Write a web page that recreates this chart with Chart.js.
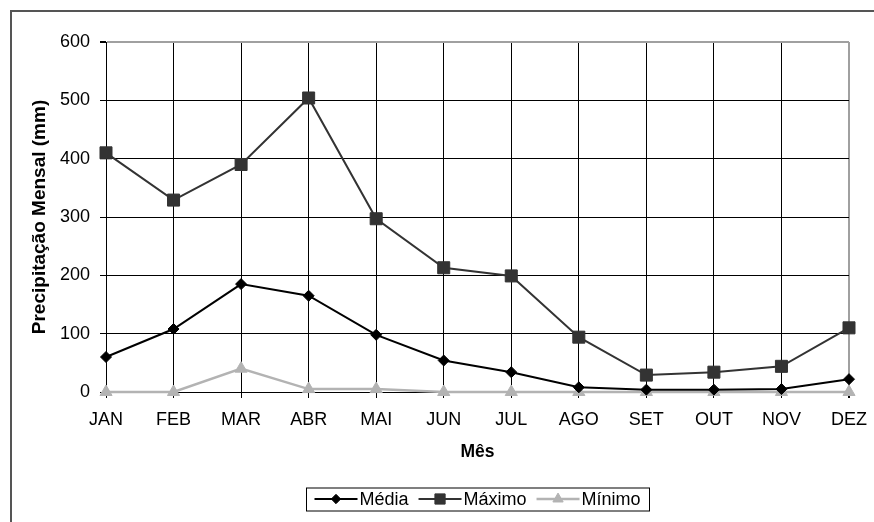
<!DOCTYPE html>
<html>
<head>
<meta charset="utf-8">
<script src="https://cdn.jsdelivr.net/npm/chart.js@4/dist/chart.umd.min.js"></script>
<style>
  html, body { margin: 0; padding: 0; background: #fff; }
  #wrap { position: relative; width: 874px; height: 522px; overflow: hidden; }
  #frame { position: absolute; left: 10px; top: 10px; width: 900px; height: 600px;
           border-left: 2px solid #555; border-top: 2px solid #555; box-sizing: border-box; }
  canvas { position: absolute; left: 0; top: 0; }
</style>
</head>
<body>
<div id="wrap">
  <div id="frame"></div>
  <canvas id="c" width="874" height="522"></canvas>
</div>
<script>
// Precipitação mensal (mm)
const meses = ['JAN', 'FEB', 'MAR', 'ABR', 'MAI', 'JUN', 'JUL', 'AGO', 'SET', 'OUT', 'NOV', 'DEZ'];
const media = [60, 108, 185, 165, 98, 54, 34, 8, 4, 4, 5, 22];
const maximo = [410, 329, 390, 504, 297, 213, 199, 94, 29, 34, 44, 110];
const minimo = [0, 0, 40, 5, 5, 0, 0, 0, 0, 0, 0, 0];
const yTicks = [0, 100, 200, 300, 400, 500, 600];

const FONT = 'Liberation Sans, Arial, sans-serif';

// Line-with-marker legend inside a boxed frame, centred under the plot area
const boxLegend = {
  id: 'boxLegend',
  afterDraw(chart) {
    const ctx = chart.ctx;
    const sets = chart.data.datasets;
    const area = chart.chartArea;
    ctx.save();
    ctx.font = '18px ' + FONT;
    ctx.textBaseline = 'middle';
    const lineLen = 43, gapText = 2, gapItem = 10, padL = 8, padR = 9;
    let total = padL + padR;
    sets.forEach((d, i) => {
      total += lineLen + gapText + ctx.measureText(d.label).width + (i < sets.length - 1 ? gapItem : 0);
    });
    total = Math.round(total);
    const cy = 499, h = 23;
    const x0 = Math.round((area.left + area.right) / 2 - total / 2) + 0.5;
    ctx.strokeStyle = '#000';
    ctx.lineWidth = 1;
    ctx.strokeRect(x0, cy - h / 2 + 0.5, total, h);
    let x = x0 + padL;
    sets.forEach((d) => {
      ctx.strokeStyle = d.borderColor;
      ctx.lineWidth = d.borderWidth;
      ctx.beginPath();
      ctx.moveTo(x, cy);
      ctx.lineTo(x + lineLen, cy);
      ctx.stroke();
      ctx.fillStyle = d.pointBackgroundColor;
      ctx.strokeStyle = d.pointBorderColor;
      ctx.lineWidth = 1;
      Chart.helpers.drawPoint(ctx, {
        pointStyle: d.pointStyle, radius: d.pointRadius * 0.85, rotation: 0, borderWidth: 1
      }, x + lineLen / 2, cy);
      x += lineLen + gapText;
      ctx.fillStyle = '#000';
      ctx.textAlign = 'left';
      ctx.fillText(d.label, x, cy + 1);
      x += ctx.measureText(d.label).width + gapItem;
    });
    ctx.restore();
  }
};

new Chart(document.getElementById('c'), {
  type: 'line',
  data: {
    labels: meses,
    datasets: [
      {
        label: 'Média', data: media, clip: false,
        borderColor: '#000', borderWidth: 2,
        pointStyle: 'rectRot', pointRadius: 5.5,
        pointBackgroundColor: '#000', pointBorderColor: '#000', pointBorderWidth: 1
      },
      {
        label: 'Máximo', data: maximo, clip: false,
        borderColor: '#333', borderWidth: 2,
        pointStyle: 'rect', pointRadius: 8.5,
        pointBackgroundColor: '#333', pointBorderColor: '#333', pointBorderWidth: 1
      },
      {
        label: 'Mínimo', data: minimo, clip: false,
        borderColor: '#b3b3b3', borderWidth: 2.5,
        pointStyle: 'triangle', pointRadius: 7,
        pointBackgroundColor: '#b3b3b3', pointBorderColor: '#b3b3b3', pointBorderWidth: 1
      }
    ]
  },
  options: {
    responsive: false,
    animation: false,
    events: [],
    layout: { padding: { left: 28, top: 42, right: 25, bottom: 57 } },
    elements: { line: { tension: 0 } },
    plugins: { legend: { display: false }, tooltip: { enabled: false } },
    scales: {
      x: {
        offset: false,
        afterFit(scale) {
          scale.height = 73;
          scale.paddingLeft = 0;
          scale.paddingRight = 0;
        },
        grid: {
          color: (c) => (c.index === meses.length - 1 ? '#a0a0a0' : '#000'),
          lineWidth: (c) => (c.index === meses.length - 1 ? 2 : 1),
          tickLength: 6,
          tickColor: '#000'
        },
        border: { color: '#000', width: 1 },
        ticks: { color: '#000', font: { family: FONT, size: 18 }, padding: 11, maxRotation: 0, autoSkip: false },
        title: { display: true, text: 'Mês', color: '#000', font: { family: FONT, size: 17.5, weight: 'bold' }, padding: { top: 0, bottom: 2 } }
      },
      y: {
        min: 0, max: 600,
        afterFit(scale) {
          scale.width = 78;
          scale.paddingTop = 0;
          scale.paddingBottom = 0;
        },
        afterBuildTicks(scale) { scale.ticks = yTicks.map(v => ({ value: v })); },
        grid: {
          color: (c) => (c.tick && c.tick.value === 600 ? '#a0a0a0' : '#000'),
          lineWidth: (c) => (c.tick && c.tick.value === 600 ? 2 : 1),
          tickLength: 6,
          tickColor: '#000'
        },
        border: { color: '#000', width: 1 },
        ticks: { color: '#000', font: { family: FONT, size: 18 }, padding: 10 },
        title: { display: true, text: 'Precipitação Mensal (mm)', color: '#000', font: { family: FONT, size: 19, weight: 'bold' }, padding: { top: 0, bottom: 0 } }
      }
    }
  },
  plugins: [boxLegend]
});
</script>
</body>
</html>
